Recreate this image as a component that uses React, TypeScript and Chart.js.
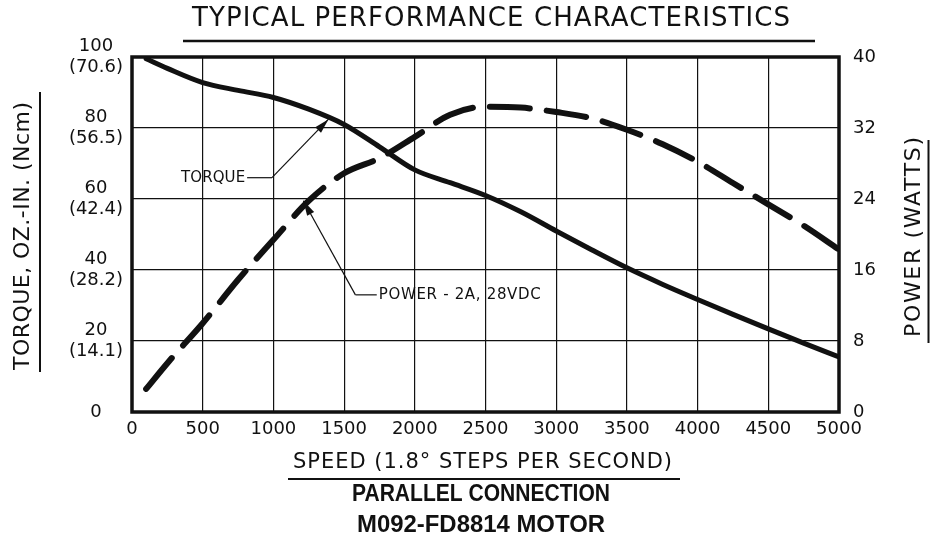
import React, { useEffect, useRef } from 'react';
import { Chart, registerables } from 'chart.js';

Chart.register(...registerables);

// ---- data ----
const speeds = [100, 250, 500, 750, 1000, 1250, 1500, 1750, 2000, 2250, 2500, 2750, 3000, 3250, 3500, 3750, 4000, 4250, 4500, 4750, 5000];
const torqueOzIn = [99.5, 96.8, 92.8, 90.6, 88.6, 85.3, 81.0, 74.7, 68.2, 64.6, 61.0, 56.4, 51.0, 45.7, 40.6, 36.0, 31.7, 27.5, 23.4, 19.4, 15.5];
const powerWatts = [2.6, 5.5, 10.0, 14.9, 19.4, 23.8, 26.9, 28.6, 31.0, 33.5, 34.4, 34.3, 33.8, 33.1, 31.8, 30.2, 28.2, 25.8, 23.4, 21.0, 18.3];

const speedTicks = [0, 500, 1000, 1500, 2000, 2500, 3000, 3500, 4000, 4500, 5000];
const torqueTicks = [0, 20, 40, 60, 80, 100];
const ncmTicks = ['', '14.1', '28.2', '42.4', '56.5', '70.6'];
const powerTicks = [0, 8, 16, 24, 32, 40];

const titleText = 'TYPICAL PERFORMANCE CHARACTERISTICS';
const xTitle = 'SPEED (1.8\u00B0 STEPS PER SECOND)';
const subTitle1 = 'PARALLEL CONNECTION';
const subTitle2 = 'M092-FD8814 MOTOR';
const yTitle = 'TORQUE, OZ.-IN. (Ncm)';
const y1Title = 'POWER (WATTS)';
const torqueLabel = 'TORQUE';
const powerLabel = 'POWER - 2A, 28VDC';

// annotation anchors in data units
const torqueNote = { textEnd: 800, y: 66, elbow: 990, tipX: 1390, tipY: 82.5 };
const powerNote = { textStart: 1745, y: 13.2, elbow: 1580, tipX: 1212, tipY: 23.8 };

const INK = '#111';
const FONT = "'DejaVu Sans', 'Liberation Sans', sans-serif";

function drawFitted(ctx: CanvasRenderingContext2D, text: string, left: number, y: number, width: number, font: string) {
  ctx.save();
  ctx.font = font;
  ctx.textBaseline = 'middle';
  ctx.textAlign = 'left';
  (ctx as any).letterSpacing = '0px';
  const w = ctx.measureText(text).width;
  if (w < width && text.length > 1) {
    const sp = (width - w) / (text.length - 1);
    (ctx as any).letterSpacing = sp + 'px';
    ctx.fillText(text, left, y);
  } else {
    ctx.translate(left, y);
    ctx.scale(width / w, 1);
    ctx.fillText(text, 0, 0);
  }
  ctx.restore();
}

function arrow(ctx: CanvasRenderingContext2D, x0: number, y0: number, x1: number, y1: number) {
  ctx.beginPath();
  ctx.moveTo(x0, y0);
  ctx.lineTo(x1, y1);
  ctx.stroke();
  const ang = Math.atan2(y1 - y0, x1 - x0);
  const L = 15, W = 4;
  const bx = x1 - L * Math.cos(ang), by = y1 - L * Math.sin(ang);
  ctx.beginPath();
  ctx.moveTo(x1, y1);
  ctx.lineTo(bx + W * Math.sin(ang), by - W * Math.cos(ang));
  ctx.lineTo(bx - W * Math.sin(ang), by + W * Math.cos(ang));
  ctx.closePath();
  ctx.fill();
}

const decorPlugin = {
  id: 'decor',
  afterDatasetsDraw(chart: any) {
    const { ctx, chartArea: a, scales } = chart;
    const xs = scales.x, ys = scales.y, y1s = scales.y1;
    ctx.save();
    ctx.strokeStyle = INK;
    ctx.fillStyle = INK;
    ctx.lineWidth = 3.5;
    ctx.strokeRect(a.left, a.top, a.right - a.left, a.bottom - a.top);

    // torque note
    ctx.lineWidth = 1.2;
    const tEndX = xs.getPixelForValue(torqueNote.textEnd);
    const tY = ys.getPixelForValue(torqueNote.y);
    const tElbow = xs.getPixelForValue(torqueNote.elbow);
    const tw = 64;
    drawFitted(ctx, torqueLabel, tEndX - tw, tY, tw, `15px ${FONT}`);
    ctx.beginPath();
    ctx.moveTo(tEndX + 2, tY);
    ctx.lineTo(tElbow, tY);
    ctx.stroke();
    arrow(ctx, tElbow, tY, xs.getPixelForValue(torqueNote.tipX), ys.getPixelForValue(torqueNote.tipY));

    // power note
    const pX = xs.getPixelForValue(powerNote.textStart);
    const pY = y1s.getPixelForValue(powerNote.y);
    const pElbow = xs.getPixelForValue(powerNote.elbow);
    drawFitted(ctx, powerLabel, pX, pY, 162, `15px ${FONT}`);
    ctx.beginPath();
    ctx.moveTo(pX - 2, pY);
    ctx.lineTo(pElbow, pY);
    ctx.stroke();
    arrow(ctx, pElbow, pY, xs.getPixelForValue(powerNote.tipX), y1s.getPixelForValue(powerNote.tipY));
    ctx.restore();
  },
  afterDraw(chart: any) {
    const { ctx } = chart;
    ctx.save();
    ctx.fillStyle = INK;
    ctx.strokeStyle = INK;
    // title
    drawFitted(ctx, titleText, 192, 19.5, 598, `26px ${FONT}`);
    ctx.lineWidth = 2.5;
    ctx.beginPath(); ctx.moveTo(183, 41); ctx.lineTo(815, 41); ctx.stroke();

    // x title and subtitles
    drawFitted(ctx, xTitle, 293, 463, 379, `21px ${FONT}`);
    ctx.lineWidth = 2;
    ctx.beginPath(); ctx.moveTo(288, 479); ctx.lineTo(680, 479); ctx.stroke();
    drawFitted(ctx, subTitle1, 352, 494, 258, `bold 24px 'Liberation Sans', sans-serif`);
    drawFitted(ctx, subTitle2, 357, 525, 248, `bold 24px 'Liberation Sans', sans-serif`);

    // left axis title (rotated)
    ctx.save();
    ctx.translate(23, 236);
    ctx.rotate(-Math.PI / 2);
    drawFitted(ctx, yTitle, -134, 0, 268, `22px ${FONT}`);
    ctx.restore();
    ctx.lineWidth = 2;
    ctx.beginPath(); ctx.moveTo(40, 92); ctx.lineTo(40, 372); ctx.stroke();

    // right axis title (rotated)
    ctx.save();
    ctx.translate(914, 237);
    ctx.rotate(-Math.PI / 2);
    drawFitted(ctx, y1Title, -100, 0, 200, `22px ${FONT}`);
    ctx.restore();
    ctx.beginPath(); ctx.moveTo(928.5, 140); ctx.lineTo(928.5, 343); ctx.stroke();
    ctx.restore();
  },
};

export default function App() {
  const ref = useRef<HTMLCanvasElement | null>(null);
  useEffect(() => {
    if (!ref.current) return;
    const tickFont = { family: FONT, size: 18 };
    const chart = new Chart(ref.current, {
      type: 'line',
      data: {
        datasets: [
          {
            label: 'Torque',
            data: speeds.map((s, i) => ({ x: s, y: torqueOzIn[i] })),
            yAxisID: 'y',
            borderColor: INK,
            borderWidth: 5,
            pointRadius: 0,
            cubicInterpolationMode: 'monotone',
            borderCapStyle: 'round',
            fill: false,
          },
          {
            label: 'Power',
            data: speeds.map((s, i) => ({ x: s, y: powerWatts[i] })),
            yAxisID: 'y1',
            borderColor: INK,
            borderWidth: 6,
            borderDash: [40, 17],
            borderCapStyle: 'round',
            pointRadius: 0,
            cubicInterpolationMode: 'monotone',
            fill: false,
          },
        ],
      },
      options: {
        responsive: false,
        animation: false,
        devicePixelRatio: 1,
        layout: { padding: { top: 57, left: 0, right: 0, bottom: 0 } },
        plugins: { legend: { display: false }, tooltip: { enabled: false }, title: { display: false } },
        scales: {
          x: {
            type: 'linear',
            min: 0,
            max: 5000,
            afterBuildTicks: (s: any) => { s.ticks = speedTicks.map((v) => ({ value: v })); },
            afterFit: (s: any) => { s.height = 129; },
            grid: { color: INK, lineWidth: 1.2, drawTicks: false },
            border: { display: false },
            ticks: { color: INK, font: tickFont, padding: 7, autoSkip: false, maxRotation: 0, callback: (v: any) => String(v) },
          },
          y: {
            type: 'linear',
            position: 'left',
            min: 0,
            max: 100,
            afterBuildTicks: (s: any) => { s.ticks = torqueTicks.map((v) => ({ value: v })); },
            afterFit: (s: any) => { s.width = 132; },
            grid: { color: INK, lineWidth: 1.2, drawTicks: false },
            border: { display: false },
            ticks: {
              color: INK,
              font: { family: FONT, size: 18, lineHeight: 1.15 },
              padding: 9,
              crossAlign: 'center',
              callback: (v: any) => {
                const i = torqueTicks.indexOf(Number(v));
                if (i <= 0) return String(v);
                return [String(v), `(${ncmTicks[i]})`];
              },
            },
          },
          y1: {
            type: 'linear',
            position: 'right',
            min: 0,
            max: 40,
            afterBuildTicks: (s: any) => { s.ticks = powerTicks.map((v) => ({ value: v })); },
            afterFit: (s: any) => { s.width = 91; },
            grid: { drawOnChartArea: false, drawTicks: false },
            border: { display: false },
            ticks: { color: INK, font: tickFont, padding: 14, callback: (v: any) => String(v) },
          },
        },
      } as any,
      plugins: [decorPlugin],
    });
    return () => chart.destroy();
  }, []);
  return (
    <div style={{ position: 'absolute', left: 0, top: 0, width: 930, height: 541, background: '#fff' }}>
      <canvas ref={ref} width={930} height={541} style={{ display: 'block' }} />
    </div>
  );
}
